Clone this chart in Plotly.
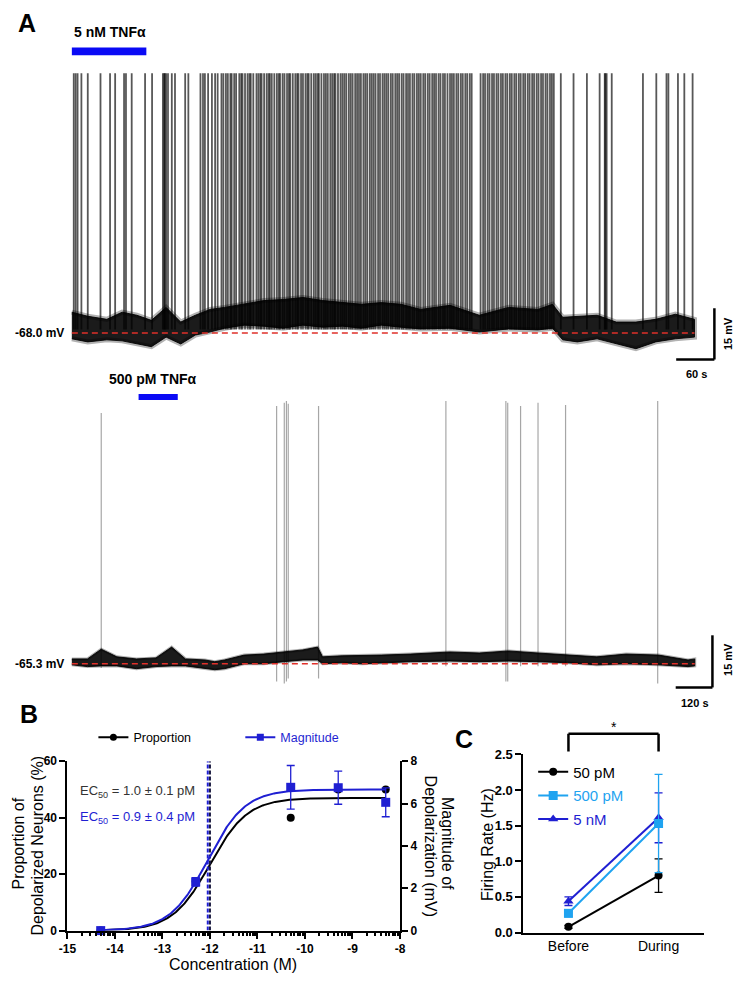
import numpy as np
import plotly.graph_objects as go

FONT = "Arial, Liberation Sans, sans-serif"
PAGE_W, PAGE_H = 747, 985
OFF = 8                      # browser body margin
FW, FH = PAGE_W - 2 * OFF, PAGE_H - 2 * OFF

# ---------------- Panel A, top trace: 5 nM TNFα ----------------
a1_baseline_mv = -68.0
a1_stim_s = [0, 117]
a1_stim_label = "5 nM TNFα"
a1_end_s = 978
a1_env_t = [0, 25, 55, 79, 102, 125, 148, 171, 194, 217, 240, 271, 302, 332, 363, 394, 425,
            455, 486, 517, 548, 594, 640, 686, 732, 755, 771, 794, 825, 855, 886, 917, 948, 978]
a1_env_hi = [-61.9, -63.1, -64.0, -61.9, -62.8, -64.3, -60.5, -64.8, -62.8, -61.1, -60.5, -59.6,
             -58.5, -58.2, -57.6, -58.5, -59.1, -59.6, -59.1, -59.6, -61.1, -59.9, -62.8, -60.5,
             -61.1, -59.6, -63.4, -63.1, -62.8, -64.8, -64.8, -64.0, -62.5, -64.0]
a1_env_lo = [-69.7, -70.6, -70.0, -70.3, -71.2, -72.0, -69.2, -71.2, -68.6, -67.7, -66.6, -65.7,
             -66.0, -66.6, -65.7, -66.3, -66.0, -66.6, -65.7, -66.3, -66.8, -66.6, -67.7, -66.8,
             -67.1, -66.6, -70.0, -70.6, -69.7, -71.2, -72.6, -70.6, -69.7, -69.2]
a1_spikes_s = [3, 6, 9, 15, 25, 45, 60, 68, 82, 85, 94, 115, 126, 143, 145, 146, 148, 151, 157,
               162, 178, 183, 202, 206, 209, 214, 220, 225, 229,
               235, 238, 242, 245, 249, 251, 255, 258, 263, 266, 268, 272, 276, 279, 281, 285,
               290, 293, 296, 298, 302, 306, 309, 311, 314, 318, 322, 325, 327, 331, 334, 338,
               341, 343, 347, 351, 354, 356, 360, 363, 367, 370, 372, 376, 380, 383, 386, 388,
               392, 396, 399, 402, 406, 409, 412, 414, 418, 422, 425, 428, 431, 435, 438, 441,
               445, 448, 451, 454, 458, 461, 464, 468, 471, 474, 477, 481, 484, 488, 491, 494,
               497, 501, 504, 508, 511, 514, 518, 521, 525, 528, 531, 535, 538, 542, 545, 548,
               552, 555, 559, 562, 566, 569, 572, 576, 579, 583, 586, 590, 594, 597, 600, 604,
               607, 611, 614, 618, 621, 625, 628, 642, 646, 649, 653, 656, 660, 663, 667, 670,
               674, 677, 681, 684, 688, 691, 695, 698, 702, 705, 709, 712, 716, 719, 723, 726,
               730, 733, 737, 740, 744, 747, 751, 754, 757,
               768, 788, 809, 829, 837, 838, 840, 848, 897, 918, 934, 937, 952, 962, 975]
a1_spike_peak_mv = 8.0
a1_spike_foot_mv = -67.0
a1_scale_s, a1_scale_mv = 60, 15

# ---------------- Panel A, bottom trace: 500 pM TNFα ----------------
a2_baseline_mv = -65.3
a2_stim_s = [218, 346]
a2_stim_label = "500 pM TNFα"
a2_end_s = 2035
a2_env_t = [0, 51, 96, 147, 211, 275, 326, 371, 435, 467, 499, 563, 627, 691, 755, 803, 819,
            883, 947, 1011, 1107, 1235, 1331, 1427, 1523, 1619, 1715, 1811, 1917, 2013, 2035]
a2_env_hi = [-63.9, -63.9, -61.1, -63.3, -63.9, -63.6, -60.5, -63.9, -64.2, -64.7, -64.2, -62.8,
             -62.5, -61.9, -61.3, -60.5, -63.3, -63.0, -63.0, -62.8, -62.5, -61.9, -62.2, -61.6,
             -62.2, -62.8, -63.3, -62.5, -62.8, -64.2, -63.9]
a2_env_lo = [-65.6, -66.1, -65.9, -65.9, -66.7, -66.1, -65.9, -65.9, -66.7, -67.0, -66.7, -65.3,
             -65.3, -64.7, -64.2, -64.2, -65.3, -65.0, -65.3, -65.0, -64.7, -64.5, -64.7, -64.5,
             -64.7, -65.0, -65.6, -65.3, -65.6, -66.1, -65.9]
a2_spikes_s = [96, 669, 694, 701, 707, 806, 1222, 1418, 1424, 1466, 1523, 1613, 1914]
a2_spike_peak_mv = [6.9, 8.9, 9.8, 10.3, 9.5, 8.9, 10.3, 10.3, 9.8, 8.9, 9.8, 9.2, 10.3]
a2_spike_foot_mv = [-66.5, -70.4, -71.0, -70.4, -69.5, -69.5, -66.0, -70.4, -70.4, -66.0,
                    -66.0, -66.0, -71.0]
a2_scale_s, a2_scale_mv = 120, 15

# ---------------- Panel B: concentration-response ----------------
b_logconc = [-14.3, -12.3, -10.3, -9.3, -8.3]
b_prop_pct = [0, 17.5, 40, 50, 50]
b_mag_mv = [0, 2.3, 6.77, 6.75, 6.06]
b_mag_err = [0, 0.2, 1.03, 0.78, 0.68]
b_prop_top, b_prop_logec50 = 47.0, -12.0
b_mag_top, b_mag_logec50 = 6.67, -12.046
b_hill = 1.1
b_xticks = [-15, -14, -13, -12, -11, -10, -9, -8]
b_prop_ticks = [0, 20, 40, 60]
b_mag_ticks = [0, 2, 4, 6, 8]
b_ec50_prop_text = "EC<sub>50</sub> = 1.0 ± 0.1 pM"
b_ec50_mag_text = "EC<sub>50</sub> = 0.9 ± 0.4 pM"

# ---------------- Panel C: firing rate ----------------
c_cond = ["Before", "During"]
c_50pm = [0.08, 0.80]
c_50pm_err = [0.02, 0.235]
c_500pm = [0.27, 1.53]
c_500pm_err = [0.05, 0.69]
c_5nm = [0.44, 1.61]
c_5nm_err = [0.06, 0.35]
c_yticks = [0.0, 0.5, 1.0, 1.5, 2.0, 2.5]

BLACK = "#000000"
BLUE = "#1f1fd2"
LBLUE = "#1fa3f0"
STIM = "#0a0af5"
RED = "#e0302a"


def px_x(px):
    return (px - OFF) / FW


def px_y(py):
    return 1 - (py - OFF) / FH


# pixel <-> data calibration of the two recordings (layout only)
def t1(px):
    return (px - 64) * 60 / 39


def v1(py):
    return a1_baseline_mv + (331 - py) / 3.47


def t2(px):
    return (px - 64) * 3.2


def v2(py):
    return a2_baseline_mv + (667 - py) / 3.53


def spike_xy(times, foot, peak):
    xs, ys = [], []
    for i, t in enumerate(times):
        f = foot[i] if isinstance(foot, list) else foot
        p = peak[i] if isinstance(peak, list) else peak
        xs += [t, t, None]
        ys += [f, p, None]
    return xs, ys


def band(fig, t, hi, lo, xa, ya, color, width):
    fig.add_trace(go.Scatter(x=t + t[::-1], y=hi + lo[::-1], fill="toself", fillcolor=color,
                             mode="lines", line=dict(color=color, width=width),
                             xaxis=xa, yaxis=ya, showlegend=False, hoverinfo="skip"))


fig = go.Figure()

# ---- Trace A1 ----
sx, sy = spike_xy(a1_spikes_s, a1_spike_foot_mv, a1_spike_peak_mv)
fig.add_trace(go.Scatter(x=sx, y=sy, mode="lines", line=dict(color="rgba(0,0,0,0.66)", width=1.8),
                         xaxis="x", yaxis="y", showlegend=False, hoverinfo="skip"))
band(fig, a1_env_t, a1_env_hi, a1_env_lo, "x", "y", "rgba(0,0,0,0.3)", 5)   # noisy fringe
band(fig, a1_env_t, a1_env_hi, a1_env_lo, "x", "y", "rgba(0,0,0,0.85)", 1)
fig.add_trace(go.Scatter(x=[0, a1_end_s], y=[a1_baseline_mv] * 2, mode="lines",
                         line=dict(color=RED, width=1.5, dash="6px,4px"),
                         xaxis="x", yaxis="y", showlegend=False, hoverinfo="skip"))

# ---- Trace A2 ----
sx, sy = spike_xy(a2_spikes_s, a2_spike_foot_mv, a2_spike_peak_mv)
fig.add_trace(go.Scatter(x=sx, y=sy, mode="lines", line=dict(color="rgba(0,0,0,0.35)", width=1.2),
                         xaxis="x2", yaxis="y2", showlegend=False, hoverinfo="skip"))
band(fig, a2_env_t, a2_env_hi, a2_env_lo, "x2", "y2", "rgba(0,0,0,0.3)", 3)
band(fig, a2_env_t, a2_env_hi, a2_env_lo, "x2", "y2", "rgba(0,0,0,0.85)", 1)
fig.add_trace(go.Scatter(x=[0, a2_end_s], y=[a2_baseline_mv] * 2, mode="lines",
                         line=dict(color=RED, width=1.5, dash="6px,4px"),
                         xaxis="x2", yaxis="y2", showlegend=False, hoverinfo="skip"))

# ---- Panel B ----
xc = np.linspace(b_logconc[0], b_logconc[-1], 300)
prop_fit = b_prop_top / (1 + 10 ** ((b_prop_logec50 - xc) * b_hill))
mag_fit = b_mag_top / (1 + 10 ** ((b_mag_logec50 - xc) * b_hill))
fig.add_trace(go.Scatter(x=xc, y=prop_fit, mode="lines", line=dict(color=BLACK, width=2),
                         xaxis="x3", yaxis="y3", showlegend=False, hoverinfo="skip"))
fig.add_trace(go.Scatter(x=xc, y=mag_fit, mode="lines", line=dict(color=BLUE, width=2),
                         xaxis="x3", yaxis="y4", showlegend=False, hoverinfo="skip"))
fig.add_trace(go.Scatter(x=[b_mag_logec50] * 2, y=[0, b_mag_ticks[-1]], mode="lines",
                         line=dict(color=BLUE, width=2, dash="4px,2px"),
                         xaxis="x3", yaxis="y4", showlegend=False, hoverinfo="skip"))
fig.add_trace(go.Scatter(x=[b_prop_logec50] * 2, y=[0, b_prop_ticks[-1]], mode="lines",
                         line=dict(color="#1a1a40", width=2, dash="4px,2px"),
                         xaxis="x3", yaxis="y3", showlegend=False, hoverinfo="skip"))
fig.add_trace(go.Scatter(x=b_logconc, y=b_prop_pct, mode="markers",
                         marker=dict(color=BLACK, size=8, symbol="circle"), cliponaxis=False,
                         xaxis="x3", yaxis="y3", showlegend=False))
fig.add_trace(go.Scatter(x=b_logconc, y=b_mag_mv, mode="markers",
                         marker=dict(color=BLUE, size=9, symbol="square"), cliponaxis=False,
                         error_y=dict(type="data", array=b_mag_err, color=BLUE, thickness=1.3, width=4),
                         xaxis="x3", yaxis="y4", showlegend=False))
# legend entries for B
fig.add_trace(go.Scatter(x=[None], y=[None], mode="lines+markers", name="Proportion",
                         line=dict(color=BLACK, width=2), marker=dict(color=BLACK, size=7),
                         xaxis="x3", yaxis="y3", legend="legend"))
fig.add_trace(go.Scatter(x=[None], y=[None], mode="lines+markers", name="Magnitude",
                         line=dict(color=BLUE, width=2), marker=dict(color=BLUE, size=7, symbol="square"),
                         xaxis="x3", yaxis="y4", legend="legend2"))

# ---- Panel C ----
fig.add_trace(go.Scatter(x=c_cond, y=c_50pm, mode="lines+markers", name="50 pM",
                         line=dict(color=BLACK, width=2), marker=dict(color=BLACK, size=8),
                         error_y=dict(type="data", array=c_50pm_err, color=BLACK, thickness=1.3, width=4),
                         cliponaxis=False, xaxis="x5", yaxis="y5", legend="legend3"))
fig.add_trace(go.Scatter(x=c_cond, y=c_5nm, mode="lines+markers", name="5 nM",
                         line=dict(color=BLUE, width=2), marker=dict(color=BLUE, size=9, symbol="triangle-up"),
                         error_y=dict(type="data", array=c_5nm_err, color=BLUE, thickness=1.3, width=4),
                         cliponaxis=False, xaxis="x5", yaxis="y5", legend="legend5"))
fig.add_trace(go.Scatter(x=c_cond, y=c_500pm, mode="lines+markers", name="500 pM",
                         line=dict(color=LBLUE, width=2), marker=dict(color=LBLUE, size=9, symbol="square"),
                         error_y=dict(type="data", array=c_500pm_err, color=LBLUE, thickness=1.3, width=4),
                         cliponaxis=False, xaxis="x5", yaxis="y5", legend="legend4"))

tickfont_b = dict(family=FONT, size=12, color="black")
axis_common = dict(showline=True, linecolor="black", linewidth=2, ticks="outside", ticklen=6,
                   tickwidth=2, tickcolor="black", showgrid=False, zeroline=False, fixedrange=True)

minor_vals = [d + np.log10(k) for d in range(-15, -8) for k in range(2, 10)]


def bold(v):
    return f"<b>{v}</b>"


layout = dict(
    width=FW, height=FH, margin=dict(l=0, r=0, t=0, b=0),
    paper_bgcolor="white", plot_bgcolor="rgba(0,0,0,0)",
    font=dict(family=FONT, color="black"),
    xaxis=dict(domain=[0, 1], range=[t1(OFF), t1(PAGE_W - OFF)], visible=False, anchor="y"),
    yaxis=dict(domain=[px_y(375), 1], range=[v1(375), v1(OFF)], visible=False, anchor="x"),
    xaxis2=dict(domain=[0, 1], range=[t2(OFF), t2(PAGE_W - OFF)], visible=False, anchor="y2"),
    yaxis2=dict(domain=[px_y(720), px_y(375)], range=[v2(720), v2(375)], visible=False, anchor="x2"),
    xaxis3=dict(domain=[px_x(59.5), px_x(399)], range=[b_xticks[0], b_xticks[-1]], anchor="y3",
                tickvals=b_xticks, ticktext=[bold(f"-{abs(v)}") for v in b_xticks], tickfont=tickfont_b,
                minor=dict(tickvals=minor_vals, ticks="outside", ticklen=3, tickwidth=1.5, tickcolor="black"),
                **axis_common),
    yaxis3=dict(domain=[px_y(938), px_y(766)], range=[0, b_prop_ticks[-1]], anchor="x3",
                tickvals=b_prop_ticks, ticktext=[bold(v) for v in b_prop_ticks], tickfont=tickfont_b,
                **axis_common),
    yaxis4=dict(domain=[px_y(938), px_y(766)], range=[0, b_mag_ticks[-1]], anchor="x3",
                overlaying="y3", side="right", tickvals=b_mag_ticks,
                ticktext=[bold(v) for v in b_mag_ticks], tickfont=tickfont_b, **axis_common),
    xaxis5=dict(domain=[px_x(525), px_x(709)], range=[-0.5, 1.5], anchor="y5", type="category",
                tickfont=dict(family=FONT, size=14, color="black"),
                **{**axis_common, "ticks": ""}),
    yaxis5=dict(domain=[px_y(940), px_y(759)], range=[0, c_yticks[-1]], anchor="x5",
                tickvals=c_yticks, ticktext=[bold(f"{v:.1f}") for v in c_yticks],
                tickfont=dict(family=FONT, size=13, color="black"), **axis_common),
    legend=dict(x=px_x(86), y=px_y(742), xanchor="left", yanchor="middle", bgcolor="rgba(0,0,0,0)",
                font=dict(family=FONT, size=12.5, color="black")),
    legend2=dict(x=px_x(236), y=px_y(742), xanchor="left", yanchor="middle", bgcolor="rgba(0,0,0,0)",
                 font=dict(family=FONT, size=12.5, color=BLUE)),
    legend3=dict(x=px_x(535), y=px_y(777), xanchor="left", yanchor="middle", bgcolor="rgba(0,0,0,0)",
                 font=dict(family=FONT, size=15, color="black")),
    legend4=dict(x=px_x(535), y=px_y(801), xanchor="left", yanchor="middle", bgcolor="rgba(0,0,0,0)",
                 font=dict(family=FONT, size=15, color=LBLUE)),
    legend5=dict(x=px_x(535), y=px_y(825), xanchor="left", yanchor="middle", bgcolor="rgba(0,0,0,0)",
                 font=dict(family=FONT, size=15, color=BLUE)),
)
fig.update_layout(**layout)

shapes = []
# stimulus bars
shapes.append(dict(type="rect", xref="x", yref="paper", x0=a1_stim_s[0], x1=a1_stim_s[1],
                   y0=px_y(49), y1=px_y(41), fillcolor=STIM, line=dict(width=0)))
shapes.append(dict(type="rect", xref="x2", yref="paper", x0=a2_stim_s[0], x1=a2_stim_s[1],
                   y0=px_y(399), y1=px_y(393), fillcolor=STIM, line=dict(width=0)))
# scale bars, corner placed below the end of each recording
sb1_t, sb1_v = t1(720), v1(358)
shapes.append(dict(type="line", xref="x", yref="y", x0=sb1_t - a1_scale_s, x1=sb1_t, y0=sb1_v, y1=sb1_v,
                   line=dict(color="black", width=2.5)))
shapes.append(dict(type="line", xref="x", yref="y", x0=sb1_t, x1=sb1_t, y0=sb1_v, y1=sb1_v + a1_scale_mv,
                   line=dict(color="black", width=2.5)))
sb2_t, sb2_v = t2(718), v2(691)
shapes.append(dict(type="line", xref="x2", yref="y2", x0=sb2_t - a2_scale_s, x1=sb2_t, y0=sb2_v, y1=sb2_v,
                   line=dict(color="black", width=2.5)))
shapes.append(dict(type="line", xref="x2", yref="y2", x0=sb2_t, x1=sb2_t, y0=sb2_v, y1=sb2_v + a2_scale_mv,
                   line=dict(color="black", width=2.5)))
# significance bracket in C
ytop, yleg = px_y(738), px_y(756)
shapes.append(dict(type="line", xref="x5", yref="paper", x0=0, x1=1, y0=ytop, y1=ytop,
                   line=dict(color="black", width=2.5)))
shapes.append(dict(type="line", xref="x5", yref="paper", x0=0, x1=0, y0=ytop, y1=yleg,
                   line=dict(color="black", width=2.5)))
shapes.append(dict(type="line", xref="x5", yref="paper", x0=1, x1=1, y0=ytop, y1=yleg,
                   line=dict(color="black", width=2.5)))
fig.update_layout(shapes=shapes)

ann = []


def add_text(text, x, y, size, xref="paper", yref="paper", xanchor="center", yanchor="middle",
             bold_=False, color="black", angle=0, xshift=0):
    ann.append(dict(text=text, x=x, y=y, xref=xref, yref=yref, xanchor=xanchor, yanchor=yanchor,
                    showarrow=False, textangle=angle, xshift=xshift,
                    font=dict(family=FONT, size=size, color=color, weight="bold" if bold_ else "normal")))


add_text("A", px_x(18), px_y(16), 25, bold_=True)
add_text("B", px_x(20), px_y(718), 25, bold_=True)
add_text("C", px_x(464), px_y(743), 25, bold_=True)
add_text(a1_stim_label, a1_stim_s[0], px_y(25), 14, xref="x", xanchor="left", bold_=True)
add_text(a2_stim_label, (a2_stim_s[0] + a2_stim_s[1]) / 2, px_y(378), 14, xref="x2", bold_=True, xshift=-5)
add_text(f"{a1_baseline_mv:.1f} mV", px_x(58), a1_baseline_mv, 12, yref="y", xanchor="right", bold_=True)
add_text(f"{a2_baseline_mv:.1f} mV", px_x(58), a2_baseline_mv, 12, yref="y2", xanchor="right", bold_=True)
add_text(f"{a1_scale_mv} mV", px_x(734), px_y(332), 11, bold_=True, angle=-90)
add_text(f"{a1_scale_s} s", px_x(702), px_y(373), 11, bold_=True)
add_text(f"{a2_scale_mv} mV", px_x(734), px_y(663), 11, bold_=True, angle=-90)
add_text(f"{a2_scale_s} s", px_x(700), px_y(707), 11, bold_=True)
add_text(b_ec50_prop_text, px_x(70), px_y(797), 13, xanchor="left", color="#333333")
add_text(b_ec50_mag_text, px_x(70), px_y(823), 13, xanchor="left", color=BLUE)
add_text("Proportion of", px_x(10.5), px_y(849), 16, angle=-90)
add_text("Depolarized Neurons (%)", px_x(29), px_y(852), 16, angle=-90)
add_text("Concentration (M)", px_x(229), px_y(972), 16)
add_text("Magnitude of", px_x(447), px_y(850), 16, angle=90)
add_text("Depolarization (mV)", px_x(430), px_y(852), 16, angle=90)
add_text("Firing Rate (Hz)", px_x(489), px_y(851), 16, angle=-90)
add_text("*", 0.5, px_y(731), 14, xref="x5")
fig.update_layout(annotations=ann)

fig.write_html("out.html", config={"displayModeBar": False})
